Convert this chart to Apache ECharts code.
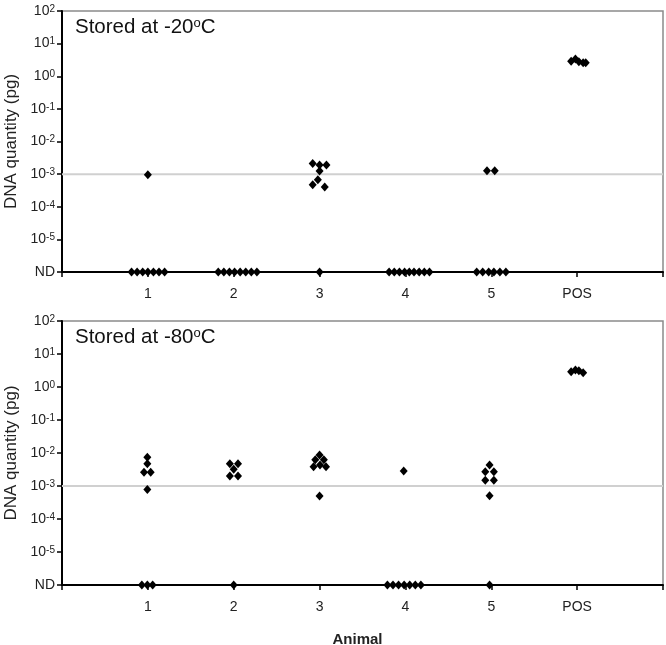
<!DOCTYPE html>
<html>
<head>
<meta charset="utf-8">
<script src="https://cdn.jsdelivr.net/npm/echarts@6/dist/echarts.min.js"></script>
<style>
html,body{margin:0;padding:0;background:#fff;}
#chart{width:666px;height:645px;}
</style>
</head>
<body>
<div id="chart"></div>
<script>
// Category labels (x positions 1..6)
const categories = ['1', '2', '3', '4', '5', 'POS'];
// Value used for "not detected" samples (bottom of the log axis)
const ND = 1e-6;
const yTickLabels = ['ND', '10{sup|-5}', '10{sup|-4}', '10{sup|-3}', '10{sup|-2}', '10{sup|-1}', '10{sup|0}', '10{sup|1}', '10{sup|2}'];
const panelTitles = ['Stored at -20', 'Stored at -80'];
const thresholdValue = 0.001;

// Stored at -20 °C : x position (category + jitter) and DNA quantity (pg)
const top20X = [
  0.81, 0.875, 0.94, 1.0, 1.065, 1.13, 1.195, 1.0,
  1.82, 1.885, 1.95, 2.01, 2.075, 2.14, 2.205, 2.27,
  3.0, 2.92, 3.0, 3.08, 3.0, 2.98, 2.92, 3.06,
  3.81, 3.87, 3.93, 3.99, 4.045, 4.10, 4.16, 4.22, 4.28,
  4.83, 4.90, 4.97, 5.03, 5.10, 5.17, 4.95, 5.04,
  5.93, 5.98, 6.02, 6.07, 6.10
];
const top20Y = [
  ND, ND, ND, ND, ND, ND, ND, 9.6e-4,
  ND, ND, ND, ND, ND, ND, ND, ND,
  ND, 2.1e-3, 1.9e-3, 1.9e-3, 1.25e-3, 6.7e-4, 4.7e-4, 4.0e-4,
  ND, ND, ND, ND, ND, ND, ND, ND, ND,
  ND, ND, ND, ND, ND, ND, 1.28e-3, 1.28e-3,
  2.9, 3.4, 2.8, 2.6, 2.6
];

// Stored at -80 °C
const bot80X = [
  0.93, 0.994, 1.056, 0.994, 0.994, 0.955, 1.033, 0.994,
  2.0, 1.955, 2.05, 2.0, 1.955, 2.05,
  3.0, 2.95, 3.05, 2.93, 3.005, 3.075, 3.0,
  3.79, 3.855, 3.92, 3.985, 4.05, 4.115, 4.18, 3.98,
  4.98, 4.98, 4.93, 5.03, 4.93, 5.03, 4.98,
  5.93, 5.98, 6.02, 6.07
];
const bot80Y = [
  ND, ND, ND, 7.4e-3, 4.7e-3, 2.6e-3, 2.6e-3, 7.9e-4,
  ND, 4.7e-3, 4.7e-3, 3.2e-3, 2.0e-3, 2.0e-3,
  8.7e-3, 6.2e-3, 6.2e-3, 3.85e-3, 4.3e-3, 3.85e-3, 5.0e-4,
  ND, ND, ND, ND, ND, ND, ND, 2.85e-3,
  ND, 4.3e-3, 2.7e-3, 2.7e-3, 1.5e-3, 1.5e-3, 5.1e-4,
  2.9, 3.3, 3.1, 2.7
];

const FONT = '"Liberation Sans", Arial, sans-serif';

function zip(xs, ys) { return xs.map((x, i) => [x, ys[i]]); }

function xAxisFor(idx, withName) {
  const ax = {
    type: 'value', gridIndex: idx, min: 0, max: 7, interval: 1,
    axisLine: { show: true, onZero: false, lineStyle: { color: '#000', width: 2 } },
    axisTick: { show: true, inside: false, length: 5, lineStyle: { color: '#000', width: 1.5 } },
    axisLabel: {
      margin: 15, color: '#222', fontFamily: FONT, fontSize: 14,
      formatter: v => categories[v - 1] || ''
    },
    splitLine: { show: false }
  };
  if (withName) {
    ax.name = 'Animal';
    ax.nameLocation = 'middle';
    ax.nameGap = 47;
    ax.nameTextStyle = { fontFamily: FONT, fontSize: 15, fontWeight: 'bold', color: '#222', padding: [0, 10, 0, 0] };
  }
  return ax;
}

function yAxisFor(idx) {
  return {
    type: 'log', logBase: 10, gridIndex: idx, min: ND, max: 100, interval: 1,
    name: 'DNA quantity (pg)', nameLocation: 'middle', nameGap: 40,
    nameTextStyle: { fontFamily: FONT, fontSize: 17, color: '#222' },
    axisLine: { show: true, onZero: false, lineStyle: { color: '#000', width: 2 } },
    axisTick: { show: true, inside: false, length: 5, lineStyle: { color: '#000', width: 1.5 } },
    axisLabel: {
      margin: 7, color: '#222', fontFamily: FONT, fontSize: 14,
      formatter: v => {
        const e = Math.round(Math.log10(v));
        return yTickLabels[e + 6] || '';
      },
      rich: {
        sup: { fontSize: 10, fontFamily: FONT, color: '#222', verticalAlign: 'top', lineHeight: 9, padding: [0, 0, 6, 0] }
      }
    },
    splitLine: { show: false },
    minorTick: { show: false }
  };
}

function thresholdFor(idx) {
  return {
    type: 'line', xAxisIndex: idx, yAxisIndex: idx,
    data: [[0, thresholdValue], [7, thresholdValue]],
    symbol: 'none', silent: true,
    lineStyle: { color: '#d0d0d0', width: 2, type: 'solid' },
    z: 1
  };
}

function scatterFor(idx, data) {
  return {
    type: 'scatter', xAxisIndex: idx, yAxisIndex: idx, data: data,
    symbol: 'diamond', symbolSize: [8, 9], clip: false,
    itemStyle: { color: '#000', opacity: 1 },
    z: 5
  };
}

const chart = echarts.init(document.getElementById('chart'), null, { renderer: 'canvas' });
chart.setOption({
  animation: false,
  backgroundColor: '#fff',
  title: panelTitles.map((t, i) => ({
    text: t + '{sup|o}C',
    left: 70, top: i === 0 ? 12 : 322,
    textStyle: {
      fontFamily: FONT, fontSize: 20.5, fontWeight: 'normal', color: '#111',
      rich: { sup: { fontFamily: FONT, fontSize: 13, color: '#111', verticalAlign: 'top', lineHeight: 10, padding: [0, 0, 8, 0] } }
    }
  })),
  grid: [
    { left: 62, right: 3, top: 11, height: 261, show: true, borderColor: '#8a8a8a', borderWidth: 1.5, containLabel: false, outerBoundsMode: 'none' },
    { left: 62, right: 3, top: 321, height: 264, show: true, borderColor: '#8a8a8a', borderWidth: 1.5, containLabel: false, outerBoundsMode: 'none' }
  ],
  xAxis: [xAxisFor(0, false), xAxisFor(1, true)],
  yAxis: [yAxisFor(0), yAxisFor(1)],
  series: [
    thresholdFor(0), thresholdFor(1),
    scatterFor(0, zip(top20X, top20Y)), scatterFor(1, zip(bot80X, bot80Y))
  ]
});
</script>
</body>
</html>
